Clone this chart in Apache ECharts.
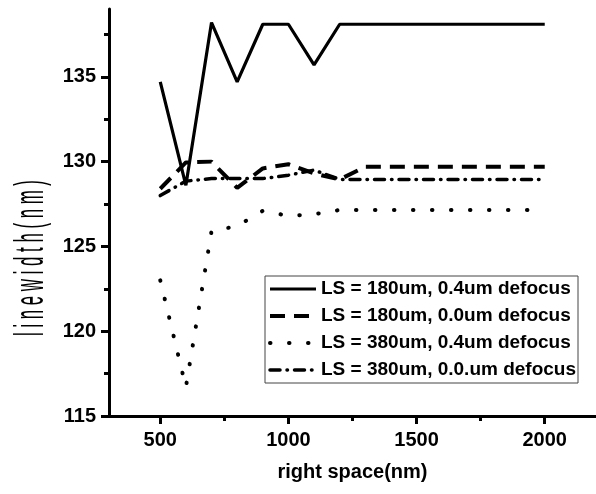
<!DOCTYPE html>
<html>
<head>
<meta charset="utf-8">
<script src="https://cdn.jsdelivr.net/npm/echarts@6/dist/echarts.min.js"></script>
<style>
html,body{margin:0;padding:0;background:#fff;}
#chart{width:596px;height:494px;}
</style>
</head>
<body>
<div id="chart"></div>
<script>
var xValues = [500, 600, 700, 800, 900, 1000, 1100, 1200, 1300, 1400, 1500, 1600, 1700, 1800, 1900, 2000];
var ls180_04 = [134.7, 128.6, 138.2, 134.7, 138.1, 138.1, 135.7, 138.1, 138.1, 138.1, 138.1, 138.1, 138.1, 138.1, 138.1, 138.1];
var ls180_00 = [128.4, 129.95, 130.0, 128.45, 129.6, 129.85, 129.3, 128.95, 129.7, 129.7, 129.7, 129.7, 129.7, 129.7, 129.7, 129.7];
var ls380_04 = [123.0, 116.7, 125.9, 126.2, 127.1, 126.8, 126.9, 127.15, 127.15, 127.15, 127.15, 127.15, 127.15, 127.15, 127.15, 127.15];
var ls380_00 = [128.0, 128.85, 129.0, 129.0, 129.0, 129.2, 129.5, 128.95, 128.95, 128.95, 128.95, 128.95, 128.95, 128.95, 128.95, 128.95];
var seriesNames = ['LS = 180um, 0.4um defocus', 'LS = 180um, 0.0um defocus', 'LS = 380um, 0.4um defocus', 'LS = 380um, 0.0.um defocus'];
var xMajorTicks = [500, 1000, 1500, 2000];
var xMinorTicks = [750, 1250, 1750];
var yMajorTicks = [115, 120, 125, 130, 135];
var yMinorTicks = [117.5, 122.5, 127.5, 132.5, 137.5];
var xTitle = 'right space(nm)';
var yTitle = 'l i n e w i d t h ( n m )';

function pairs(ys) { return xValues.map(function (x, i) { return [x, ys[i]]; }); }
function plain(v) { return String(v); }

var FONT = '"Liberation Sans", Arial, sans-serif';
var chart = echarts.init(document.getElementById('chart'));
var lineStyles = [
  { color: '#000', width: 3.2, type: 'solid' },
  { color: '#000', width: 4, type: [15, 9], cap: 'butt' },
  { color: '#000', width: 4, type: [0.5, 18.5], cap: 'round' },
  { color: '#000', width: 3.5, type: [10, 7, 0.5, 7], cap: 'round' }
];
var allData = [ls180_04, ls180_00, ls380_04, ls380_00];
var tickStyle = { color: '#000', width: 3 };

var option = {
  animation: false,
  backgroundColor: '#fff',
  grid: { left: 109, top: 9, right: -10, bottom: 78, containLabel: false },
  xAxis: [{
    type: 'value', min: 300, max: 2200, position: 'bottom',
    axisLine: { show: true, onZero: false, lineStyle: { color: '#000', width: 3 } },
    axisTick: { show: true, inside: false, customValues: xMajorTicks, length: 8, lineStyle: tickStyle },
    axisLabel: { show: true, customValues: xMajorTicks, formatter: plain, margin: 14, color: '#000', fontSize: 20, fontWeight: 'bold', fontFamily: FONT },
    splitLine: { show: false },
    name: xTitle, nameLocation: 'middle', nameGap: 46,
    nameTextStyle: { color: '#000', fontSize: 20, fontWeight: 'bold', fontFamily: FONT }
  }, {
    type: 'value', min: 300, max: 2200, position: 'bottom',
    axisLine: { show: false, onZero: false },
    axisTick: { show: true, inside: false, customValues: xMinorTicks, length: 5, lineStyle: tickStyle },
    axisLabel: { show: false },
    splitLine: { show: false }
  }],
  yAxis: [{
    type: 'value', min: 115, max: 139, position: 'left',
    axisLine: { show: true, onZero: false, lineStyle: { color: '#000', width: 3 } },
    axisTick: { show: true, inside: false, customValues: yMajorTicks, length: 8, lineStyle: tickStyle },
    axisLabel: { show: true, customValues: yMajorTicks, formatter: plain, margin: 13, color: '#000', fontSize: 20, fontWeight: 'bold', fontFamily: FONT },
    splitLine: { show: false }
  }, {
    type: 'value', min: 115, max: 139, position: 'left',
    axisLine: { show: false, onZero: false },
    axisTick: { show: true, inside: false, customValues: yMinorTicks, length: 5, lineStyle: tickStyle },
    axisLabel: { show: false },
    splitLine: { show: false }
  }],
  legend: {
    orient: 'vertical', left: 265, top: 276,
    padding: [3, 2, 3, 3], itemGap: 7, itemWidth: 46, itemHeight: 14,
    borderColor: '#444', borderWidth: 1, backgroundColor: '#fff',
    data: seriesNames,
    lineStyle: { width: 'inherit' },
    itemStyle: { color: 'rgba(0,0,0,0)', borderWidth: 0, opacity: 0 },
    textStyle: { color: '#000', fontSize: 19, fontWeight: 'bold', fontFamily: FONT, lineHeight: 20 }
  },
  graphic: [{
    type: 'text', x: 32, y: 258, rotation: Math.PI / 2, scaleX: 0.42, scaleY: 1,
    style: { text: yTitle, font: 'normal 40px ' + FONT, fill: '#000', align: 'center', verticalAlign: 'middle' }
  }],
  series: seriesNames.map(function (name, i) {
    return {
      name: name, type: 'line', xAxisIndex: 0, yAxisIndex: 0,
      data: pairs(allData[i]), symbol: 'none', showSymbol: false,
      lineStyle: lineStyles[i], itemStyle: { color: '#000' }, z: 3
    };
  })
};
chart.setOption(option);
</script>
</body>
</html>
